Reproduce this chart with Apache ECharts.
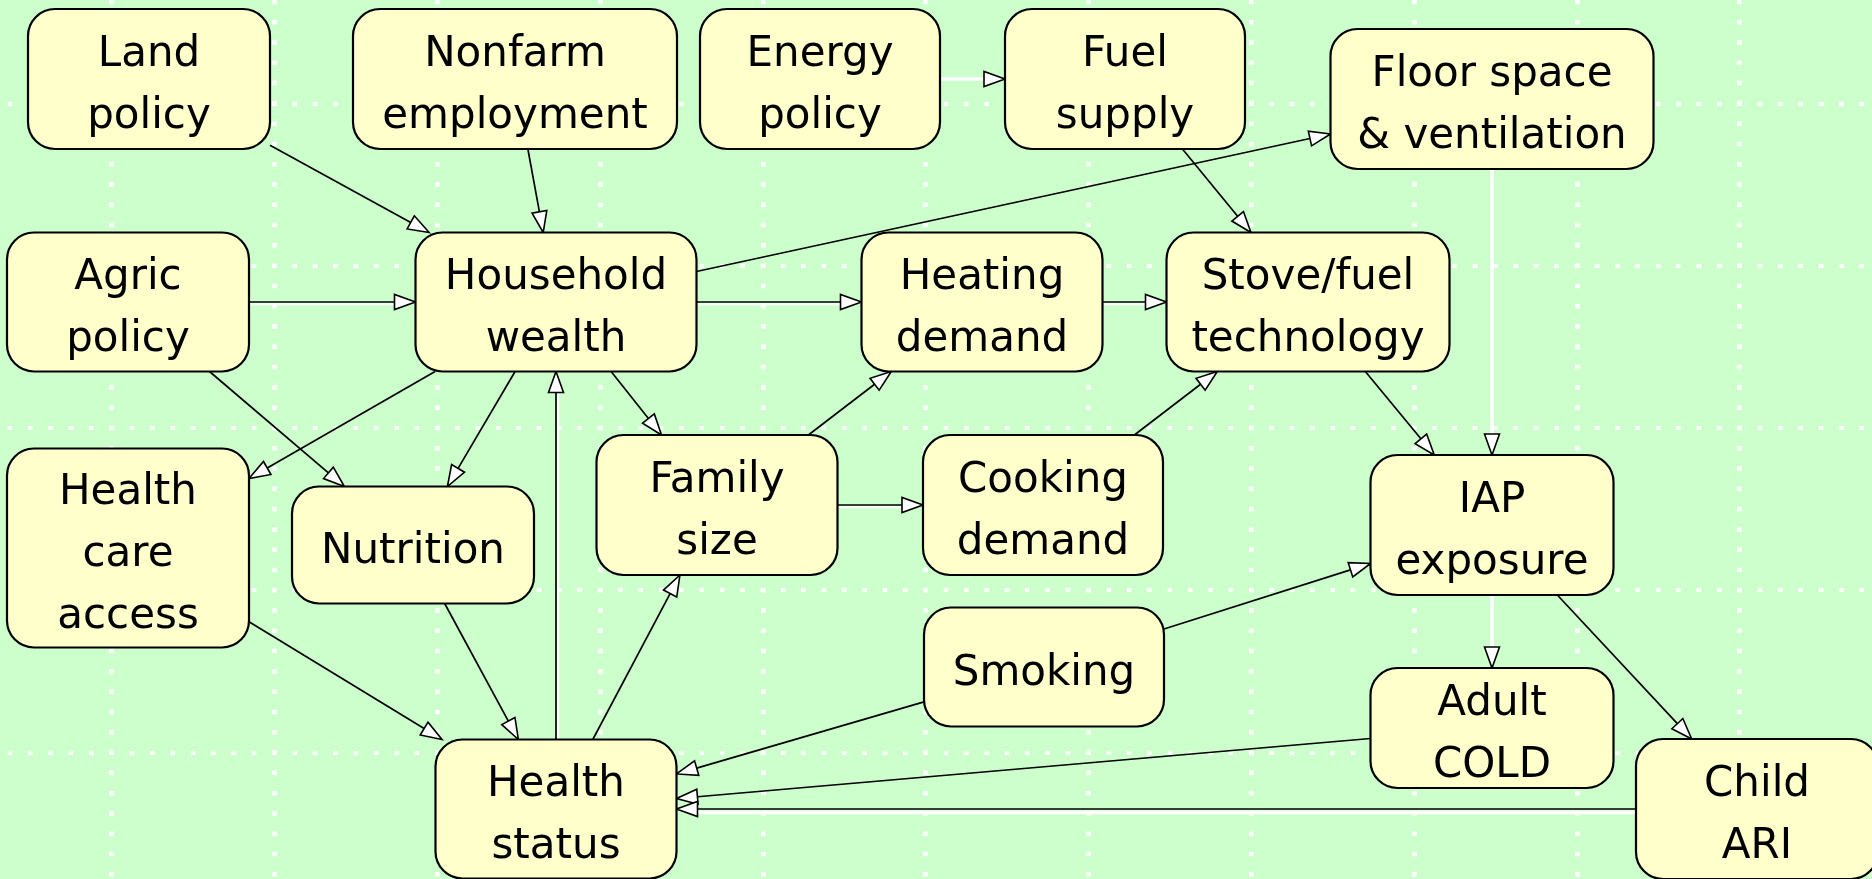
<!DOCTYPE html>
<html>
<head>
<meta charset="utf-8">
<script src="https://cdn.jsdelivr.net/npm/echarts@6/dist/echarts.min.js"></script>
<style>
html,body{margin:0;padding:0;background:#ccffcc;overflow:hidden}
#chart{width:1872px;height:879px}
</style>
</head>
<body>
<div id="chart"></div>
<script>
// ---- Data: influence diagram nodes (layout units = reference pixels) ----
const nodeNames = [
  'Land\npolicy', 'Nonfarm\nemployment', 'Energy\npolicy', 'Fuel\nsupply',
  'Floor space\n& ventilation', 'Agric\npolicy', 'Household\nwealth',
  'Heating\ndemand', 'Stove/fuel\ntechnology', 'Health\ncare\naccess',
  'Nutrition', 'Family\nsize', 'Cooking\ndemand', 'IAP\nexposure',
  'Smoking', 'Adult\nCOLD', 'Health\nstatus', 'Child\nARI'
];
const nodeX = [149, 515, 820, 1125, 1492, 128, 556, 982, 1308, 128, 413, 717, 1043, 1492, 1044, 1492, 556, 1757];
const nodeY = [79, 79, 79, 79, 99, 302, 302, 302, 302, 548, 545, 505, 505, 525, 667, 728, 809, 809];
const nodeW = [242, 324, 240, 240, 323, 242, 281, 241, 283, 242, 242, 241, 240, 243, 240, 243, 241, 242];
const nodeH = [140, 140, 140, 140, 140, 139, 139, 139, 139, 199, 117, 140, 140, 140, 119, 120, 139, 140];

// edges: [source, target] by node index
const edgeList = [
  [0, 6], [1, 6], [2, 3], [3, 8], [6, 4], [5, 6], [6, 7], [7, 8], [4, 13],
  [8, 13], [5, 10], [6, 9], [6, 10], [6, 11], [11, 7], [12, 8], [11, 12],
  [14, 13], [13, 15], [13, 17], [9, 16], [10, 16], [16, 6], [16, 11],
  [14, 16], [15, 16], [17, 16]
];

// edges drawn as plain white lines in the reference
const whiteEdges = ['2-3', '4-13', '13-15'];

const nodeData = nodeNames.map((n, i) => [nodeX[i], nodeY[i], nodeW[i], nodeH[i], i]);
const edgeData = edgeList.map(([s, t]) => [
  nodeX[s], nodeY[s], nodeX[t], nodeY[t],
  nodeW[s], nodeH[s], nodeW[t], nodeH[t], s, t
]);

function renderNode(params, api) {
  const c = api.coord([api.value(0), api.value(1)]);
  const s = api.size([api.value(2), api.value(3)], [api.value(0), api.value(1)]);
  const idx = api.value(4);
  return {
    type: 'group',
    children: [
      {
        type: 'rect',
        shape: { x: c[0] - s[0] / 2, y: c[1] - s[1] / 2, width: s[0], height: s[1], r: 27 },
        style: { fill: '#ffffcc', stroke: '#000', lineWidth: 2.2 }
      },
      {
        type: 'text',
        style: {
          text: nodeNames[idx], x: c[0], y: c[1] + 7,
          align: 'center', verticalAlign: 'middle',
          fontFamily: 'DejaVu Sans', fontSize: 42, lineHeight: 62, fill: '#000'
        }
      }
    ]
  };
}

function renderEdge(params, api) {
  const a = api.coord([api.value(0), api.value(1)]);
  const b = api.coord([api.value(2), api.value(3)]);
  const sa = api.size([api.value(4), api.value(5)], [api.value(0), api.value(1)]);
  const sb = api.size([api.value(6), api.value(7)], [api.value(2), api.value(3)]);
  const key = api.value(8) + '-' + api.value(9);
  const dx = b[0] - a[0], dy = b[1] - a[1];
  const clipT = (s) => Math.min(
    Math.abs(dx) > 0.01 ? s[0] / 2 / Math.abs(dx) : Infinity,
    Math.abs(dy) > 0.01 ? s[1] / 2 / Math.abs(dy) : Infinity
  );
  const ta = clipT(sa), tb = clipT(sb);
  const p1 = [a[0] + dx * ta, a[1] + dy * ta];
  const p2 = [b[0] - dx * tb, b[1] - dy * tb];
  const len = Math.hypot(p2[0] - p1[0], p2[1] - p1[1]);
  const ux = (p2[0] - p1[0]) / len, uy = (p2[1] - p1[1]) / len;
  const L = 21, W = 7.5;
  const base = [p2[0] - ux * L, p2[1] - uy * L];
  const tri = [p2, [base[0] - uy * W, base[1] + ux * W], [base[0] + uy * W, base[1] - ux * W]];
  const children = [];
  const horiz = Math.abs(dy) < 0.5, vert = Math.abs(dx) < 0.5;
  if (whiteEdges.indexOf(key) >= 0) {
    children.push({
      type: 'line',
      shape: { x1: p1[0], y1: p1[1], x2: base[0], y2: base[1] },
      style: { stroke: '#fff', lineWidth: 3.5 }
    });
  } else {
    if (horiz || vert) {
      const off = key === '17-16' ? 3.5 : 2.2;
      const w = key === '17-16' ? 3.5 : 2;
      const ox = vert ? off : 0, oy = horiz ? off : 0;
      children.push({
        type: 'line',
        shape: { x1: p1[0] + ox, y1: p1[1] + oy, x2: base[0] + ox, y2: base[1] + oy },
        style: { stroke: '#fff', lineWidth: w }
      });
    }
    children.push({
      type: 'line',
      shape: { x1: p1[0], y1: p1[1], x2: base[0], y2: base[1] },
      style: { stroke: '#000', lineWidth: 1.7 }
    });
  }
  children.push({
    type: 'polygon',
    shape: { points: tri },
    style: { fill: '#fff', stroke: '#000', lineWidth: 1.6, lineJoin: 'miter' }
  });
  return { type: 'group', children };
}

const GX = 162.8, GY = 162.3;
const chart = echarts.init(document.getElementById('chart'), null, { renderer: 'canvas' });
chart.setOption({
  backgroundColor: '#ccffcc',
  animation: false,
  grid: [
    { left: 0, top: 0, right: 0, bottom: 0, outerBoundsMode: 'none' },
    {
      left: 111.6 - GX, top: 103.3 - GY, width: GX * 13, height: GY * 7,
      outerBoundsMode: 'none', containLabel: false
    }
  ],
  xAxis: [
    { gridIndex: 0, type: 'value', min: 0, max: 1872, show: false },
    {
      gridIndex: 1, type: 'value', min: 0, max: 13, interval: 1,
      axisLine: { show: false }, axisTick: { show: false }, axisLabel: { show: false },
      splitLine: { show: true, lineStyle: { color: '#ffffff', width: 4.5, type: [4.5, GY / 8 - 4.5], dashOffset: 2.2 } }
    }
  ],
  yAxis: [
    { gridIndex: 0, type: 'value', min: 0, max: 879, inverse: true, show: false },
    {
      gridIndex: 1, type: 'value', min: 0, max: 7, interval: 1, inverse: true,
      axisLine: { show: false }, axisTick: { show: false }, axisLabel: { show: false },
      splitLine: { show: true, lineStyle: { color: '#ffffff', width: 4, type: [4.5, GX / 8 - 4.5], dashOffset: 2.2 } }
    }
  ],
  series: [
    {
      type: 'custom', name: 'edges', xAxisIndex: 0, yAxisIndex: 0,
      renderItem: renderEdge, data: edgeData,
      encode: { x: [0, 2], y: [1, 3] }, z: 2, silent: true
    },
    {
      type: 'custom', name: 'nodes', xAxisIndex: 0, yAxisIndex: 0,
      renderItem: renderNode, data: nodeData,
      encode: { x: 0, y: 1 }, z: 3, silent: true
    }
  ]
});
</script>
</body>
</html>
